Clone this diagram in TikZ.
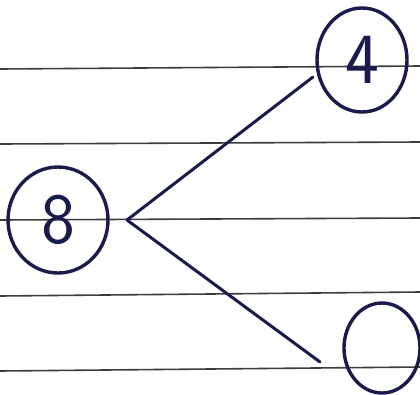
\documentclass[tikz,border=0pt]{standalone}
\usetikzlibrary{shapes.geometric}
\definecolor{ink}{HTML}{1A1A4C}
\definecolor{ruling}{HTML}{3C3C3C}
\begin{document}
\begin{tikzpicture}[
    x=1pt, y=-1pt,
    font=\sffamily\fontsize{72}{72}\selectfont,
    ruleline/.style={draw=ruling, line width=1.6pt},
    ring/.style={ellipse, draw=ink, line width=3.4pt, text=ink, inner sep=0pt},
    branch/.style={draw=ink, line width=3pt, line cap=round}
]

    % 1. Ruled paper
    \useasboundingbox (0,0) rectangle (420,394);
    \draw[ruleline] (0,69) -- (420,66);
    \draw[ruleline] (0,144) -- (420,142);
    \draw[ruleline] (0,220) -- (420,218);
    \draw[ruleline] (0,296) -- (420,292);
    \draw[ruleline] (0,371) -- (420,367);

    % 2. Circles
    \node[ring, minimum width=100pt, minimum height=106pt] (eight) at (58,220) {8};
    \node[ring, minimum width=90pt, minimum height=104pt] (four) at (362,60) {4};
    \node[ring, minimum width=76pt, minimum height=90pt] (blank) at (382,348) {};

    % 3. Branches
    \coordinate (fork) at (127,220);
    \coordinate (upend) at (313,77);
    \coordinate (downend) at (320,362);
    \draw[branch] (fork) -- (upend);
    \draw[branch] (fork) -- (downend);

\end{tikzpicture}
\end{document}
